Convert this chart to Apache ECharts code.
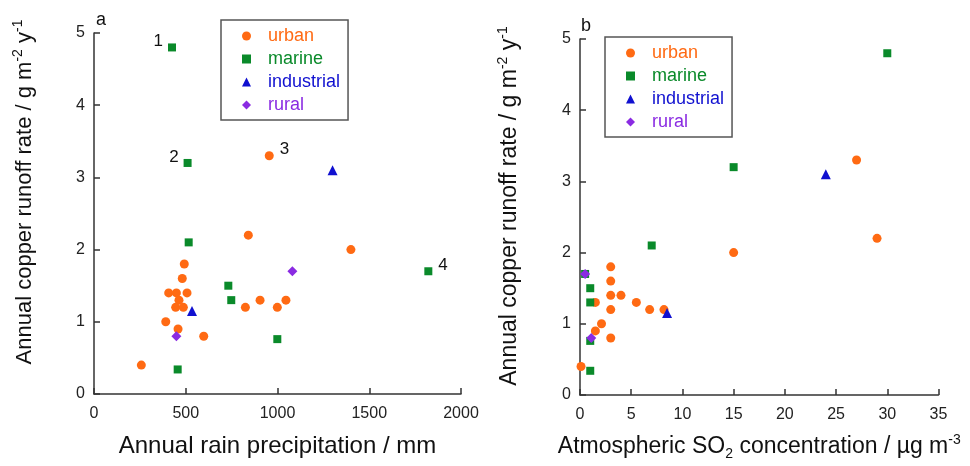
<!DOCTYPE html>
<html>
<head>
<meta charset="utf-8">
<script src="https://cdn.jsdelivr.net/npm/echarts@6/dist/echarts.min.js"></script>
<style>html,body{margin:0;padding:0;background:#fff}#c{width:970px;height:466px}</style>
</head>
<body>
<div id="c"></div>
<script>
// ---------- data ----------
const categories = ['urban', 'marine', 'industrial', 'rural'];
const symbols = ['circle', 'rect', 'triangle', 'diamond'];
const colors = ['#ff6a13', '#0a8a2a', '#1010d0', '#8a2be2'];

// panel a: [annual rain precipitation (mm), annual copper runoff rate]
const rainUrban = [[955,3.3],[841,2.2],[1400,2.0],[492,1.8],[481,1.6],[407,1.4],[449,1.4],[507,1.4],[463,1.3],[905,1.3],[1046,1.3],[445,1.2],[487,1.2],[825,1.2],[999,1.2],[391,1.0],[458,0.9],[598,0.8],[258,0.4]];
const rainMarine = [[425,4.8],[510,3.2],[516,2.1],[1822,1.7],[732,1.5],[748,1.3],[999,0.76],[456,0.34]];
const rainIndustrial = [[1300,3.1],[534,1.15]];
const rainRural = [[1081,1.7],[449,0.8]];

// panel b: [atmospheric SO2 (µg m-3), annual copper runoff rate]
const so2Urban = [[27,3.3],[29,2.2],[15,2.0],[3,1.8],[3,1.6],[3,1.4],[4,1.4],[1.5,1.3],[5.5,1.3],[3,1.2],[6.8,1.2],[8.2,1.2],[2.1,1.0],[1.5,0.9],[3,0.8],[0.1,0.4]];
const so2Marine = [[30,4.8],[15,3.2],[7,2.1],[0.5,1.7],[1,1.5],[1,1.3],[1,0.76],[1,0.34]];
const so2Industrial = [[24,3.1],[8.5,1.15]];
const so2Rural = [[0.5,1.7],[1.1,0.8]];

const yTicks = [0, 1, 2, 3, 4, 5];
const rainTicks = [0, 500, 1000, 1500, 2000];
const so2Ticks = [0, 5, 10, 15, 20, 25, 30, 35];

// point annotations in panel a: category, point index, text, side
const annotations = [
  {cat: 'marine', idx: 0, text: '1', side: 'left'},
  {cat: 'marine', idx: 1, text: '2', side: 'left'},
  {cat: 'urban', idx: 0, text: '3', side: 'right'},
  {cat: 'marine', idx: 3, text: '4', side: 'right'}
];

const panelData = [
  [rainUrban, rainMarine, rainIndustrial, rainRural],
  [so2Urban, so2Marine, so2Industrial, so2Rural]
];
const symbolSizes = [9, 8, 10, 10];

// ---------- chart ----------
const chart = echarts.init(document.getElementById('c'));
const FONT = 'Liberation Sans, Arial, sans-serif';
const axisCol = '#333';

function yAxis(gridIndex, size, pad) {
  return {
    gridIndex, type: 'value', min: yTicks[0], max: yTicks[yTicks.length - 1], interval: 1,
    axisLine: {show: true, lineStyle: {color: axisCol, width: 1.5}},
    axisTick: {show: true, inside: true, length: 6, lineStyle: {color: axisCol, width: 1.5}},
    splitLine: {show: false},
    axisLabel: {margin: 9, fontSize: 16, color: '#222', fontFamily: FONT},
    name: 'Annual copper runoff rate / g m{sup|-2} y{sup|-1}',
    nameLocation: 'middle', nameGap: 56, nameRotate: 90,
    nameTextStyle: {
      fontSize: size, color: '#111', fontFamily: FONT, lineHeight: size + 5, padding: pad,
      rich: {sup: {fontSize: 14, lineHeight: 14, verticalAlign: 'top', color: '#111', fontFamily: FONT}}
    }
  };
}
function xAxis(gridIndex, ticks, name, size, pad) {
  return {
    gridIndex, type: 'value', min: ticks[0], max: ticks[ticks.length - 1], interval: ticks[1] - ticks[0],
    axisLine: {show: true, lineStyle: {color: axisCol, width: 1.5}},
    axisTick: {show: true, inside: true, length: 6, lineStyle: {color: axisCol, width: 1.5}},
    splitLine: {show: false},
    axisLabel: {margin: 12, fontSize: 16, color: '#222', fontFamily: FONT, formatter: v => String(v)},
    name, nameLocation: 'middle', nameGap: 38,
    nameTextStyle: {
      fontSize: size, color: '#111', fontFamily: FONT, lineHeight: size + 5, padding: pad,
      rich: {
        sup: {fontSize: 14, lineHeight: 14, verticalAlign: 'top', color: '#111', fontFamily: FONT},
        sub: {fontSize: 14, lineHeight: 14, verticalAlign: 'bottom', color: '#111', fontFamily: FONT}
      }
    }
  };
}

const series = [];
panelData.forEach((sets, p) => {
  sets.forEach((pts, c) => {
    const data = pts.map((pt, i) => {
      const item = {value: pt};
      if (p === 0) {
        const a = annotations.find(a => a.cat === categories[c] && a.idx === i);
        if (a) {
          item.label = {
            show: true, formatter: a.text, position: a.side,
            distance: a.side === 'left' ? 5 : 6, offset: [0, -6],
            fontSize: 17, color: '#111', fontFamily: FONT
          };
        }
      }
      return item;
    });
    series.push({
      type: 'scatter', name: categories[c], xAxisIndex: p, yAxisIndex: p,
      symbol: symbols[c], symbolSize: symbolSizes[c],
      itemStyle: {color: colors[c], opacity: 1},
      data, z: 2 + c
    });
  });
});

function legend(left, top) {
  return {
    orient: 'vertical', left, top,
    data: categories.map((n, i) => ({name: n, textStyle: {color: colors[i]}})),
    itemWidth: 9, itemHeight: 9, itemGap: 5,
    padding: [7, 8, 6, 21],
    borderColor: '#555', borderWidth: 1.5,
    textStyle: {fontSize: 18, fontFamily: FONT, lineHeight: 18, padding: [0, 0, 0, 12]},
    selectedMode: false
  };
}

chart.setOption({
  animation: false,
  backgroundColor: '#fff',
  textStyle: {fontFamily: FONT},
  title: [
    {text: 'a', left: 96, top: 11, textStyle: {fontSize: 18, fontWeight: 'normal', color: '#111', fontFamily: FONT}, padding: 0},
    {text: 'b', left: 581, top: 17, textStyle: {fontSize: 18, fontWeight: 'normal', color: '#111', fontFamily: FONT}, padding: 0}
  ],
  grid: [
    {left: 94, top: 33, width: 367, height: 367},
    {left: 580, top: 39, width: 358.5, height: 358}
  ],
  xAxis: [
    xAxis(0, rainTicks, 'Annual rain precipitation / mm', 24, [0, 0, 0, 0]),
    xAxis(1, so2Ticks, 'Atmospheric SO{sub|2} concentration / µg m{sup|-3}', 23, [0, 0, 0, 0])
  ],
  yAxis: [yAxis(0, 22, [0, 0, 0, 43]), yAxis(1, 23, [0, 0, 0, 22])],
  legend: [legend(221, 20), legend(605, 37)],
  series
});
</script>
</body>
</html>
